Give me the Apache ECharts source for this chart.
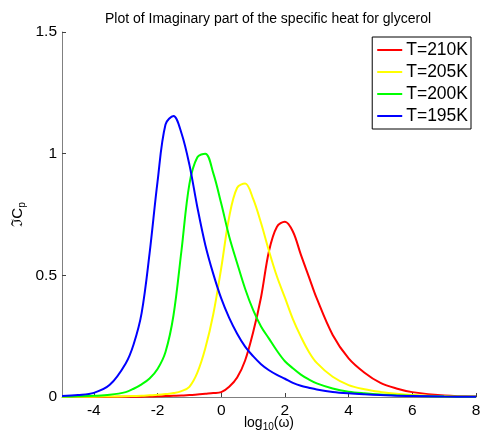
<!DOCTYPE html>
<html>
<head>
<meta charset="utf-8">
<script src="https://cdn.jsdelivr.net/npm/echarts@6/dist/echarts.min.js"></script>
<style>
  html, body { margin: 0; padding: 0; background: #fff; }
  #chart { width: 481px; height: 434px; }
</style>
</head>
<body>
<div id="chart"></div>
<script>
// log10(omega) sample positions, shared by all curves
const logOmega = [-5, -4.5, -4, -3.5, -3, -2.75, -2.5, -2.25, -2, -1.75, -1.5, -1.25, -1, -0.75, -0.5, -0.25,
  0, 0.25, 0.5, 0.75, 1, 1.25, 1.5, 1.75, 2, 2.25, 2.5, 2.75, 3, 3.5, 4, 4.5, 5, 5.5, 6, 7, 8];

const t210 = [0, 0, 0.0003, 0.0005, 0.001, 0.001, 0.0015, 0.002, 0.003, 0.004, 0.005, 0.006, 0.008, 0.01, 0.013, 0.016,
  0.02, 0.042, 0.08, 0.15, 0.265, 0.41, 0.6, 0.7, 0.72, 0.68, 0.585, 0.495, 0.405, 0.255, 0.159, 0.1, 0.058, 0.035, 0.02, 0.006, 0.002];
const t205 = [0.0005, 0.001, 0.001, 0.002, 0.003, 0.004, 0.005, 0.007, 0.009, 0.012, 0.016, 0.024, 0.042, 0.1, 0.2, 0.34,
  0.53, 0.74, 0.86, 0.877, 0.815, 0.715, 0.6, 0.495, 0.408, 0.32, 0.248, 0.186, 0.14, 0.083, 0.049, 0.032, 0.021, 0.013, 0.008, 0.003, 0.001];
const t200 = [0.002, 0.003, 0.005, 0.009, 0.02, 0.034, 0.052, 0.076, 0.115, 0.185, 0.335, 0.6, 0.875, 0.985, 1.0, 0.92,
  0.795, 0.66, 0.55, 0.445, 0.358, 0.29, 0.24, 0.19, 0.147, 0.118, 0.092, 0.072, 0.056, 0.035, 0.022, 0.015, 0.01, 0.007, 0.005, 0.002, 0.001];
const t195 = [0.004, 0.008, 0.017, 0.05, 0.138, 0.217, 0.345, 0.59, 0.885, 1.12, 1.155, 1.085, 0.955, 0.78, 0.625, 0.506,
  0.405, 0.325, 0.26, 0.207, 0.168, 0.135, 0.11, 0.091, 0.075, 0.058, 0.046, 0.038, 0.031, 0.021, 0.015, 0.011, 0.008, 0.005, 0.004, 0.002, 0.001];

const seriesNames = ['T=210K', 'T=205K', 'T=200K', 'T=195K'];
const seriesColors = ['#ff0000', '#ffff00', '#00ff00', '#0000ff'];
const xTicks = [-4, -2, 0, 2, 4, 6, 8];

const curves = [t210, t205, t200, t195];
const font = 'Liberation Sans, Arial, Helvetica, sans-serif';

const chart = echarts.init(document.getElementById('chart'));

chart.setOption({
  animation: false,
  backgroundColor: '#fff',
  title: {
    text: 'Plot of Imaginary part of the specific heat for glycerol',
    left: 263,
    textAlign: 'center',
    top: 7,
    textStyle: { fontFamily: font, fontSize: 14, fontWeight: 'normal', color: '#000' }
  },
  grid: { left: 62, right: 5, top: 32, bottom: 37, outerBoundsMode: 'none' },
  legend: {
    orient: 'vertical',
    right: 10,
    top: 37,
    icon: 'rect',
    itemWidth: 25,
    itemHeight: 2,
    itemGap: 4,
    padding: [4, 3, 4, 5],
    borderColor: '#000',
    borderWidth: 1,
    backgroundColor: '#fff',
    textStyle: { fontFamily: font, fontSize: 17.5, color: '#000', padding: [0, 0, 0, -1] },
    data: seriesNames
  },
  xAxis: {
    type: 'value',
    min: -5,
    max: 8,
    name: 'log{sub|10}(ω)',
    nameLocation: 'middle',
    nameGap: 17,
    nameMoveOverlap: false,
    nameTextStyle: {
      fontFamily: font, fontSize: 14, color: '#000',
      rich: { sub: { fontFamily: font, fontSize: 10, verticalAlign: 'bottom', padding: [8, 0, 0, 0] } }
    },
    axisLine: { onZero: false, lineStyle: { color: '#808080', width: 1 } },
    axisTick: { inside: true, length: 4, customValues: xTicks, lineStyle: { color: '#404040' } },
    axisLabel: { customValues: xTicks, margin: 6, fontFamily: font, fontSize: 15.5, color: '#000' },
    splitLine: { show: false }
  },
  yAxis: {
    type: 'value',
    min: 0,
    max: 1.5,
    interval: 0.5,
    name: 'ℑC{sub|p}',
    nameLocation: 'middle',
    nameGap: 35,
    nameMoveOverlap: false,
    nameTextStyle: {
      fontFamily: font, fontSize: 15, color: '#000',
      rich: { sub: { fontFamily: font, fontSize: 10, verticalAlign: 'bottom', padding: [8, 0, 0, 0] } }
    },
    axisLine: { show: true, onZero: false, lineStyle: { color: '#808080', width: 1 } },
    axisTick: { show: true, inside: true, length: 4, lineStyle: { color: '#404040' } },
    axisLabel: { margin: 5, fontFamily: font, fontSize: 15.5, color: '#000' },
    splitLine: { show: false }
  },
  series: curves.map((vals, i) => ({
    name: seriesNames[i],
    type: 'line',
    smooth: 0.35,
    showSymbol: false,
    symbol: 'none',
    lineStyle: { color: seriesColors[i], width: 2 },
    itemStyle: { color: seriesColors[i] },
    data: logOmega.map((x, j) => [x, vals[j]])
  }))
});
</script>
</body>
</html>
